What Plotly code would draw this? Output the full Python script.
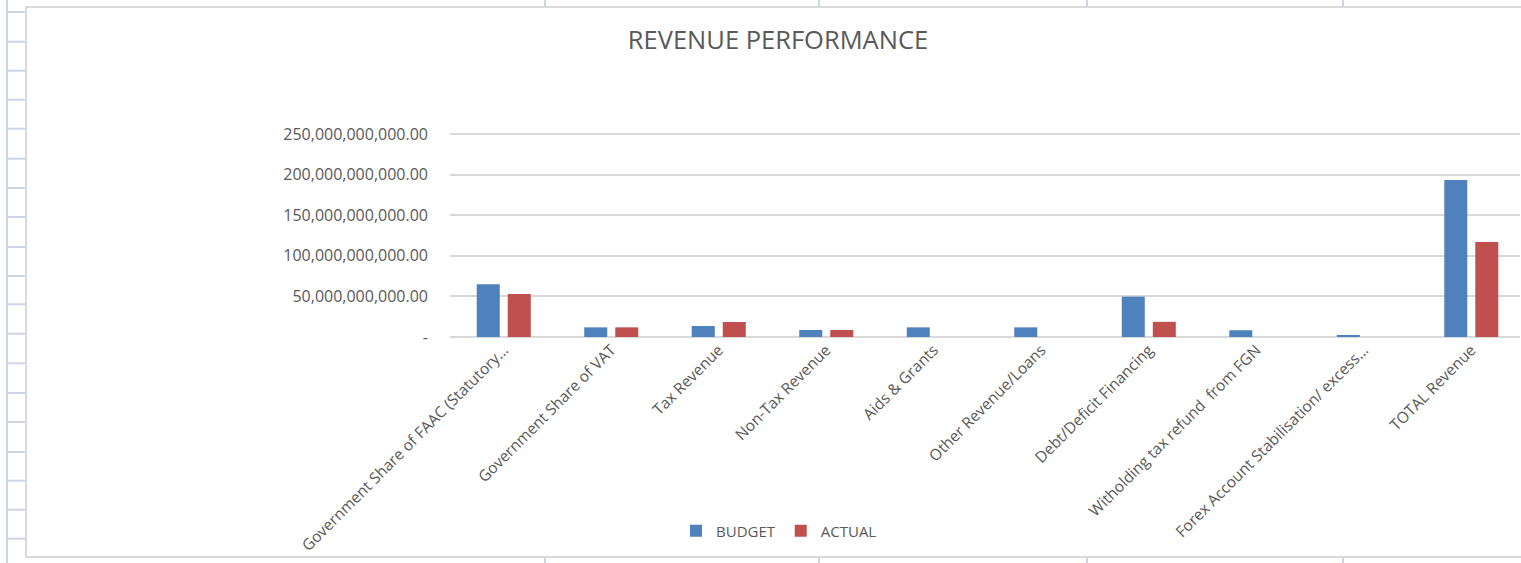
import plotly.graph_objects as go

# ---- data ----
categories = [
    "Government Share of FAAC (Statutory…",
    "Government Share of VAT",
    "Tax Revenue",
    "Non-Tax Revenue",
    "Aids & Grants",
    "Other Revenue/Loans",
    "Debt/Deficit Financing",
    "Witholding tax refund  from FGN",
    "Forex Account Stabilisation/ excess…",
    "TOTAL Revenue",
]
budget = [64.9e9, 11.9e9, 13.5e9, 8.6e9, 11.9e9, 11.9e9, 49.7e9, 8.3e9, 1.5e9, 193.2e9]
actual = [53.0e9, 11.9e9, 18.5e9, 8.6e9, 0, 0, 18.7e9, 0, 0, 117.1e9]
y_tickvals = [0, 50e9, 100e9, 150e9, 200e9, 250e9]
y_ticktext = ["-", "50,000,000,000.00", "100,000,000,000.00", "150,000,000,000.00",
              "200,000,000,000.00", "250,000,000,000.00"]
series_names = ["BUDGET", "ACTUAL"]

# ---- layout geometry (pixels) ----
W, H = 1521, 563
PL, PR, PT, PB = 450, 1520, 128, 337
Y_TOP_PX = 134  # pixel row of the 250bn gridline
y_max = 250e9 * (PB - PT) / (PB - Y_TOP_PX)

def px(x):
    return (x - PL) / (PR - PL)

def py(y):
    return (PB - y) / (PB - PT)

TEXT = "#595959"
GRID = "#d9d9d9"
SHEET = "#cdd6e6"
FONT = "Open Sans"

fig = go.Figure()
fig.add_trace(go.Bar(name=series_names[0], x=categories, y=budget, marker_color="#4f81bd",
                     marker_line=dict(width=0)))
fig.add_trace(go.Bar(name=series_names[1], x=categories, y=actual, marker_color="#c0504d",
                     marker_line=dict(width=0)))

shapes = []
# spreadsheet background lines
shapes.append(dict(type="line", xref="paper", yref="paper", x0=px(7), x1=px(7), y0=py(0), y1=py(H),
                   line=dict(color=SHEET, width=2)))
for ry in [12, 41.7, 70.7, 99.7, 128.7, 158.7, 188, 217, 247, 276, 304.3, 333.7, 363.3, 393,
           422, 452, 480.7, 509.7, 538.7]:
    shapes.append(dict(type="line", xref="paper", yref="paper", x0=px(7), x1=px(26), y0=py(ry), y1=py(ry),
                       line=dict(color=SHEET, width=2)))
for cx in [545, 819, 1087, 1343]:
    shapes.append(dict(type="line", xref="paper", yref="paper", x0=px(cx), x1=px(cx), y0=py(0), y1=py(7),
                       line=dict(color=SHEET, width=2)))
    shapes.append(dict(type="line", xref="paper", yref="paper", x0=px(cx), x1=px(cx), y0=py(557), y1=py(H),
                       line=dict(color=SHEET, width=2)))
# chart border
shapes.append(dict(type="rect", xref="paper", yref="paper", x0=px(26), x1=px(1530), y0=py(557), y1=py(7),
                   line=dict(color=GRID, width=2), fillcolor="rgba(0,0,0,0)"))

fig.update_layout(
    width=W, height=H,
    margin=dict(l=PL, r=W - PR, t=PT, b=H - PB, autoexpand=False),
    paper_bgcolor="white", plot_bgcolor="white",
    font=dict(family=FONT, color=TEXT, size=15),
    title=dict(text="REVENUE PERFORMANCE", xref="container", yref="container",
               x=778 / W, y=1 - 40 / H, xanchor="center", yanchor="middle",
               font=dict(family=FONT, size=25.5, color=TEXT)),
    barmode="group", bargap=0.423, bargroupgap=0.258,
    showlegend=True,
    legend=dict(orientation="h", x=px(779), y=py(531), xanchor="center", yanchor="middle",
                font=dict(family=FONT, size=15, color=TEXT), bgcolor="rgba(0,0,0,0)",
                traceorder="normal"),
    shapes=shapes,
)
fig.update_xaxes(range=[-0.5, 9.453], tickangle=-45, tickfont=dict(size=15.5, color=TEXT),
                 showgrid=False, showline=False, ticks="", fixedrange=True)
fig.update_yaxes(range=[0, y_max], tickvals=y_tickvals, ticktext=y_ticktext,
                 tickfont=dict(size=16, color=TEXT), showgrid=True, gridcolor=GRID, gridwidth=2,
                 zeroline=True, zerolinecolor=GRID, zerolinewidth=2, ticks="",
                 ticklabelstandoff=21, showline=False, fixedrange=True)

fig.write_html("out.html", config={"displayModeBar": False},
               post_script="document.body.style.margin='0px';document.body.style.overflow='hidden';")
